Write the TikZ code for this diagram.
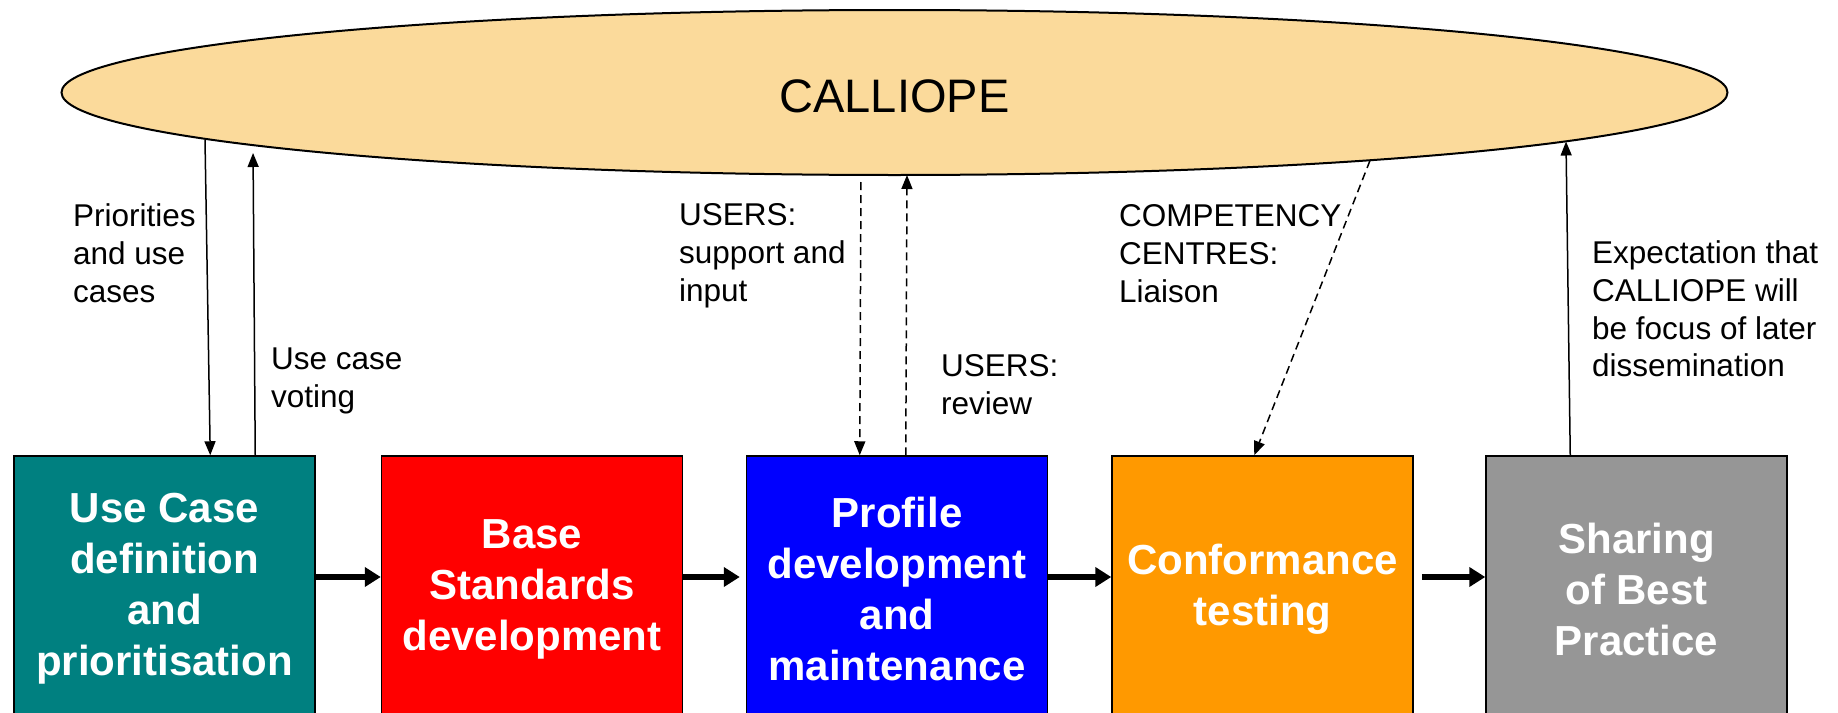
\documentclass[tikz,border=0pt]{standalone}
\usepackage{fontspec}
\setmainfont{Liberation Sans}
\usetikzlibrary{shapes.geometric,arrows.meta,calc}
\definecolor{ellfill}{HTML}{FBDA9B}
\definecolor{cteal}{HTML}{008080}
\definecolor{cred}{HTML}{FF0000}
\definecolor{cblue}{HTML}{0000FF}
\definecolor{corange}{HTML}{FF9900}
\definecolor{cgray}{HTML}{969696}
\tikzset{
  stagebox/.style={draw=black, line width=1.5pt, minimum width=301pt, minimum height=266pt, inner sep=0pt,
    text=white, align=center, font=\fontsize{42}{51}\selectfont\bfseries},
  lbl/.style={anchor=north west, inner sep=0pt, align=left, font=\fontsize{31.5}{37.8}\selectfont},
  thinarrow/.style={line width=1.5pt, -{Triangle[length=14pt,width=11pt]}},
  dasharrow/.style={thinarrow, dash pattern=on 8pt off 5pt},
  flowarrow/.style={line width=6pt, -{Triangle[length=16pt,width=19pt]}}
}
\begin{document}
\begin{tikzpicture}[x=1pt,y=-1pt]
\useasboundingbox (0,0) rectangle (1838,712);
\clip (0,0) rectangle (1838,712);
\fill[white] (0,0) rectangle (1838,712);

% ellipse
\node[ellipse, draw=black, line width=2pt, fill=ellfill, minimum width=1666pt, minimum height=165pt,
      inner sep=0pt, text height=39pt, text depth=0pt, font=\fontsize{47}{56}\selectfont] (cal) at (894.5,92.5) {CALLIOPE};

% boxes
\node[stagebox, fill=cteal] (b1) at (164.5,589) {Use Case\\definition\\and\\prioritisation};
\node[stagebox, fill=cred] (b2) at (532,589) {Base\\Standards\\development};
\node[stagebox, fill=cblue] (b3) at (897,589) {Profile\\development\\and\\maintenance};
\node[stagebox, fill=corange] (b4) at (1262.5,589) {Conformance\\testing};
\node[stagebox, fill=cgray] (b5) at (1636.5,589) {Sharing\\of Best\\Practice};

% flow arrows
\draw[flowarrow] ([yshift=12pt]b1.east) -- ([yshift=12pt]b2.west);
\draw[flowarrow, shorten >=6pt] ([yshift=12pt]b2.east) -- ([yshift=12pt]b3.west);
\draw[flowarrow] ([yshift=12pt]b3.east) -- ([yshift=12pt]b4.west);
\draw[flowarrow] ([xshift=8pt,yshift=12pt]b4.east) -- ([yshift=12pt]b5.west);

% points on the ellipse border
\coordinate (e1) at (205,139.5);
\coordinate (e2) at (253,146);
\coordinate (e3) at (861,175);
\coordinate (e4) at (907,175);
\coordinate (e5) at (1370,160.5);
\coordinate (e6) at (1566,141.5);

% vertical connectors
\draw[thinarrow] (e1) -- ($(b1.north west)+(197,0)$);
\draw[thinarrow, shorten >=7pt] ($(b1.north west)+(242,0)$) -- (e2);
\draw[dasharrow, shorten <=7pt] (e3) -- ($(b3.north west)+(114,0)$);
\draw[dasharrow] ($(b3.north west)+(160,0)$) -- (e4);
\draw[dasharrow] (e5) -- ($(b4.north west)+(143,0)$);
\draw[thinarrow] ($(b5.north west)+(85,0)$) -- (e6);

% labels
\node[lbl] (l1) at (73,203.4) {Priorities\\and use\\cases};
\node[lbl] (l2) at (271,347.4) {Use case\\voting};
\node[lbl] (l3) at (679,203.4) {USERS:\\support and\\input};
\node[lbl] (l4) at (1119,204.4) {COMPETENCY\\CENTRES:\\Liaison};
\node[lbl] (l5) at (941,354.4) {USERS:\\review};
\node[lbl] (l6) at (1592,240.4) {Expectation that\\CALLIOPE will\\be focus of later\\dissemination};
\end{tikzpicture}
\end{document}
